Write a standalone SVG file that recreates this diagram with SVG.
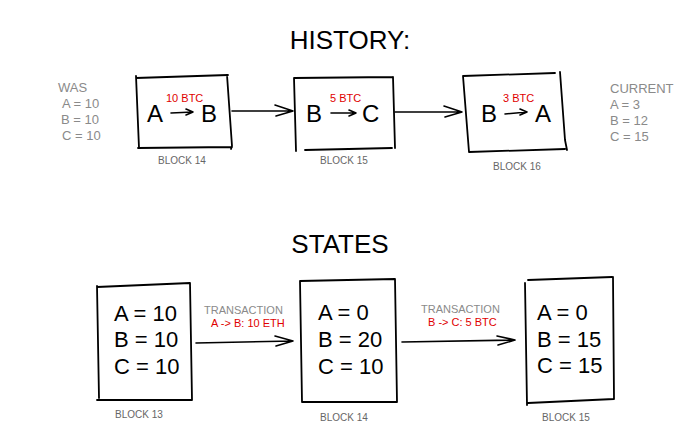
<svg xmlns="http://www.w3.org/2000/svg" width="700" height="439" viewBox="0 0 700 439">
<defs>
<style>
.bx{fill:none;stroke:#000;stroke-width:1.8;stroke-linecap:round;stroke-linejoin:round}
.ln{fill:none;stroke:#000;stroke-width:1.6;stroke-linecap:round;stroke-linejoin:round}
.t{font-family:"Liberation Sans","DejaVu Sans",sans-serif;fill:#000}
.big{font-size:24px}
.st{font-size:22px}
.ttl{font-size:26px}
.red{fill:#e00000;font-size:11px}
.g{fill:#8a8a8a;font-size:13px}
.lbl{fill:#666;font-size:10px}
</style>
</defs>
<rect width="700" height="439" fill="#fff"/>
<text class="t ttl" x="350" y="49" text-anchor="middle">HISTORY:</text>
<text class="t ttl" x="340" y="253" text-anchor="middle">STATES</text>

<g id="was">
<text class="t g" x="58" y="92">WAS</text>
<text class="t g" x="62" y="108">A = 10</text>
<text class="t g" x="61" y="124">B = 10</text>
<text class="t g" x="62" y="140">C = 10</text>
</g>
<g id="current">
<text class="t g" x="610" y="93">CURRENT</text>
<text class="t g" x="610" y="109">A = 3</text>
<text class="t g" x="610" y="125">B = 12</text>
<text class="t g" x="610" y="141">C = 15</text>
</g>

<g id="h-block14">
<path class="bx" d="M136 78 L228 75 M227 75 L232 146 L231 149 M136 76 L139 148 M138 148 L232 147"/>
<text class="t big" x="147" y="122">A</text>
<text class="t red" x="166" y="102">10 BTC</text>
<path class="ln" d="M171 113 L193 112 M186 109 L193 112 L186 115"/>
<text class="t big" x="201" y="122">B</text>
<text class="t lbl" x="158" y="164">BLOCK 14</text>
</g>
<g id="h-block15">
<path class="bx" d="M294 78 L393 77 M393 77 L395 148 M294 78 L296 151 M305 150 L392 148"/>
<text class="t big" x="306" y="122">B</text>
<text class="t red" x="330" y="102">5 BTC</text>
<path class="ln" d="M331 113 L356 113 M349 110 L356 113 L349 116"/>
<text class="t big" x="362" y="122">C</text>
<text class="t lbl" x="320" y="164">BLOCK 15</text>
</g>
<g id="h-block16">
<path class="bx" d="M463 76 L555 73 M560 72 L565 140 L567 150 M463 76 L469 152 M469 152 L565 149"/>
<text class="t big" x="481" y="122">B</text>
<text class="t red" x="503" y="102">3 BTC</text>
<path class="ln" d="M505 114 L527 112 M520 109 L527 112 L520 115"/>
<text class="t big" x="535" y="122">A</text>
<text class="t lbl" x="493" y="170">BLOCK 16</text>
</g>

<g id="s-block13">
<path class="bx" d="M97 287 L190 283 M190 283 L192 400 M97 286 L99 398 M97 400 L192 400"/>
<text class="t st" x="114" y="321">A = 10</text>
<text class="t st" x="114" y="347">B = 10</text>
<text class="t st" x="114" y="374">C = 10</text>
<text class="t lbl" x="115" y="418">BLOCK 13</text>
</g>
<g id="s-block14">
<path class="bx" d="M300 281 L395 279 M395 279 L397 402 M300 281 L302 402 M302 402 L397 402"/>
<text class="t st" x="318" y="320">A = 0</text>
<text class="t st" x="318" y="347">B = 20</text>
<text class="t st" x="318" y="374">C = 10</text>
<text class="t lbl" x="320" y="421">BLOCK 14</text>
</g>
<g id="s-block15">
<path class="bx" d="M528 280 L612 277 M613 277 L614 399 M525 283 L527 405 M528 403 L614 399"/>
<text class="t st" x="537" y="320">A = 0</text>
<text class="t st" x="537" y="347">B = 15</text>
<text class="t st" x="537" y="373">C = 15</text>
<text class="t lbl" x="542" y="421">BLOCK 15</text>
</g>

<g id="labels">
<text class="t g" x="204" y="314" style="font-size:11px">TRANSACTION</text>
<text class="t red" x="211" y="327">A -&gt; B: 10 ETH</text>
<text class="t g" x="421" y="313" style="font-size:11px">TRANSACTION</text>
<text class="t red" x="428" y="326">B -&gt; C: 5 BTC</text>
</g>

<g id="connectors">
<path class="ln" d="M232 111 L293 111 M275 105 L293 111 L276 116"/>
<path class="ln" d="M395 112 L462 112 M444 106 L462 112 L445 117"/>
<path class="ln" d="M196 343 L293 341 M275 336 L293 341 L276 346"/>
<path class="ln" d="M402 342 L515 340 M497 336 L515 340 L498 345"/>
</g>
</svg>
